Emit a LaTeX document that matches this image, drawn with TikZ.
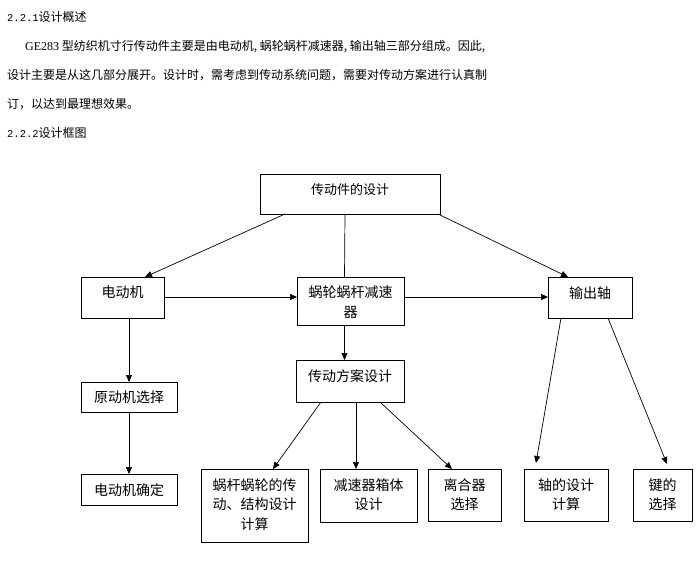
\documentclass[tikz,border=0pt]{standalone}
\usepackage{fontspec}
\newfontfamily\cjk{Noto Sans CJK SC}
\newfontfamily\tms{Liberation Serif}
\newfontfamily\mono{Liberation Mono}
\usetikzlibrary{arrows.meta}
\tikzset{
  box/.style={draw, line width=0.8pt, inner sep=0pt, outer sep=0pt, anchor=north west},
  lbl/.style={font=\cjk\fontsize{14}{19.5}\selectfont, align=center, inner sep=0pt, anchor=north},
  toplbl/.style={font=\cjk\fontsize{13}{19.5}\selectfont, align=center, inner sep=0pt, anchor=north},
  para/.style={font=\cjk\fontsize{12}{14}\selectfont, inner sep=0pt, anchor=west},
  arr/.style={line width=0.7pt, -{Triangle[length=7pt,width=6pt]}},
  ln/.style={line width=0.7pt},
}
\newcommand\mkbox[7][lbl]{%
  \node[box, minimum width={#5pt-#3pt}, minimum height={#6pt-#4pt}] (#2) at (#3,#4) {};
  \node[#1] (#2-t) at ([yshift=-9pt]#2.north) {#7};
}
\newcommand\secnum[1]{{\mono\fontsize{10.5}{14}\selectfont #1}}
\begin{document}
\begin{tikzpicture}[x=1pt,y=-1pt]
\fill[white] (0,0) rectangle (699,568);
\useasboundingbox (0,0) rectangle (699,568);

% paragraph text
\node[para] (l1) at (7,16.5) {\secnum{2.2.1}设计概述};
\node[para] (l2) at (25,46.5) {{\tms GE283} 型纺织机寸行传动件主要是由电动机, 蜗轮蜗杆减速器, 输出轴三部分组成。因此,};
\node[para] (l3) at (7,75.5) {设计主要是从这几部分展开。设计时，需考虑到传动系统问题，需要对传动方案进行认真制};
\node[para] (l4) at (7,104.5) {订，以达到最理想效果。};
\node[para] (l5) at (7,133) {\secnum{2.2.2}设计框图};

% boxes
\mkbox[toplbl]{top}{260}{174}{440}{214}{传动件的设计}
\mkbox{motor}{81}{277}{164}{318}{电动机}
\mkbox{red}{297}{277}{404}{325}{蜗轮蜗杆减速\\器}
\mkbox{out}{548}{277}{632}{318}{输出轴}
\mkbox{prime}{81}{382}{177}{412}{原动机选择}
\mkbox{motorc}{81}{474}{177}{505}{电动机确定}
\mkbox{plan}{296}{360}{404}{402}{传动方案设计}
\mkbox{worm}{201}{469}{308}{542}{蜗杆蜗轮的传\\动、结构设计\\计算}
\mkbox{housing}{320}{469}{417}{522}{减速器箱体\\设计}
\mkbox{clutch}{428}{469}{501}{521}{离合器\\选择}
\mkbox{shaft}{524}{469}{608}{521}{轴的设计\\计算}
\mkbox{key}{633}{469}{692}{521}{键的\\选择}

% connectors
\draw[arr] ([xshift=25pt]top.south west) -- ([xshift=64pt]motor.north west);
\draw[ln] ([xshift=-5pt]top.south) -- ([xshift=-6pt]red.north);
\draw[arr] ([xshift=-2pt]top.south east) -- ([xshift=20pt]out.north west);
\draw[arr] ([yshift=0.5pt]motor.east) -- ([yshift=0.5pt]motor.east -| red.west);
\draw[arr] ([yshift=0.5pt]out.west -| red.east) -- ([yshift=0.5pt]out.west);
\draw[arr] (prime.north |- motor.south) -- (prime.north);
\draw[arr] (prime.south) -- (motorc.north);
\draw[arr] ([xshift=-6pt]red.south) -- ([xshift=-6pt]red.south |- plan.north);
\draw[arr] ([xshift=25pt]plan.south west) -- ([xshift=72pt]worm.north west);
\draw[arr] ([xshift=60pt]plan.south west) -- ([xshift=36pt]housing.north west);
\draw[arr] ([xshift=84pt]plan.south west) -- ([xshift=24pt]clutch.north west);
\draw[arr] ([xshift=13pt]out.south west) -- ([xshift=12pt,yshift=6pt]shaft.north west);
\draw[arr] ([xshift=60pt]out.south west) -- ([xshift=34pt,yshift=5pt]key.north west);
\end{tikzpicture}
\end{document}
